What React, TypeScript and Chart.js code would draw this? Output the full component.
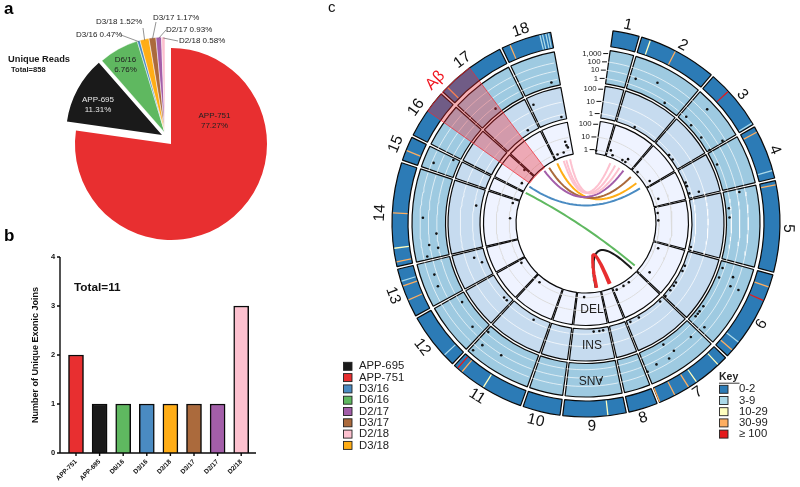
import React, { useEffect, useRef } from "react";
import { Chart, registerables } from "chart.js";

Chart.register(...registerables);
Chart.defaults.font.family = '"Liberation Sans", Arial, sans-serif';

const FONT = '"Liberation Sans", Arial, sans-serif';
const W = 800;
const H = 487;

// ---------- panel a / b ----------
const joinNames = ["APP-751", "APP-695", "D6/16", "D3/16", "D3/18", "D3/17", "D2/17", "D2/18"];
const joinColors = ["#e82f30", "#1a1a1a", "#5fb860", "#4a8bc2", "#ffad16", "#ab6a3c", "#a35ea9", "#fdc1cf"];
const readShares = [77.27, 11.31, 6.76, 0.47, 1.52, 1.17, 0.93, 0.58];
const uniqueJoins = [2, 1, 1, 1, 1, 1, 1, 3];

// ---------- panel c ----------
const exonLabels = ["1", "2", "3", "4", "5", "6", "7", "8", "9", "10", "11", "12", "13", "14", "15", "16", "17", "18"];
const exonSpans = [8.7, 24.3, 19.3, 17.1, 28.1, 28.5, 24.5, 9.5, 19.7, 12, 23.8, 17.9, 15.6, 31.9, 8.1, 15.5, 21.9, 15.1];
const keyLabels = ["0-2", "3-9", "10-29", "30-99", "≥ 100"];
const keyColors = ["#2c7bb6", "#abd9e9", "#ffffbf", "#fdae61", "#e41a1c"];
const legendNames = ["APP-695", "APP-751", "D3/16", "D6/16", "D2/17", "D3/17", "D2/18", "D3/18"];
const legendColors = ["#1a1a1a", "#e82f30", "#4a8bc2", "#5fb860", "#a35ea9", "#ab6a3c", "#fdc1cf", "#ffad16"];

// [angle in degrees clockwise from the top, colour class of the key]
const bandStripes: [number, number][] = [
  [19.4, 2], [27.5, 3], [47.2, 4], [59, 1], [62, 3], [74.3, 1], [78.6, 3], [109.3, 3], [113.6, 4],
  [128, 1], [131, 3], [137, 2], [145.2, 2], [148, 3], [152.7, 3], [157.6, 3], [173.5, 2], [212, 2],
  [219.8, 3], [221.5, 4], [227, 1], [246.6, 3], [251, 3], [252.5, 1], [258.4, 3], [262.5, 2], [273, 3],
  [292, 3], [314.4, 3], [336.9, 3], [346.2, 1], [347, 1], [348, 1], [348.8, 1],
];

// [angle, read count]
const snvDots: [number, number][] = [
  [19.5, 11], [27.4, 44], [33.6, 1], [43.6, 2], [47, 500], [47.3, 1], [53.6, 1], [59, 76], [59.5, 1], [66, 1],
  [78.5, 34], [84, 1], [87.7, 1], [108, 1], [110, 34], [112, 1], [113.4, 44], [113.5, 500], [125, 1], [127.5, 1],
  [128.7, 1], [130, 1], [131, 44], [137, 20], [145, 20], [147, 1], [148, 58], [153, 44], [157, 100], [174, 34],
  [212, 20], [219.7, 44], [221, 660], [221.2, 1], [227, 7], [237, 1], [246.6, 44], [251, 34], [258, 58], [260.4, 2],
  [262, 20], [266, 2], [272, 76], [292, 100], [296, 1], [322.5, 1], [347, 1],
];
const insDots: [number, number][] = [
  [27.5, 1], [51, 1], [54, 1], [68, 1], [70, 1], [74, 1], [74.5, 6], [102.6, 1], [113, 1], [116, 1], [123, 1], [125, 1],
  [128, 1], [132, 1], [136, 1], [150, 1], [155, 1], [170, 1], [172, 1], [175, 1], [207.5, 1], [225, 1], [227, 1],
  [249, 1], [252.5, 3], [279.4, 1], [329, 1], [337, 44], [348, 1],
];
const delDots: [number, number][] = [
  [9.3, 1], [22.5, 1], [20, 2], [31, 1], [33.7, 1], [34.2, 2], [46, 1], [57, 2], [71.6, 2], [82, 1], [87.7, 1],
  [108.7, 2], [127, 4], [143, 1], [148, 1], [154, 1], [180, 1], [237.6, 1], [217, 1], [274, 1], [286, 1], [303, 1],
  [312, 3], [347, 6], [347.3, 3], [348, 2], [339, 1], [344, 1],
];

// [name index in legendNames, from angle, to angle]; the first one is drawn on top
const chords: [number, number, number][] = [
  [1, 168.7, 158], [1, 169.6, 156.5], [0, 133.8, 170],
  [6, 342, 23.4], [6, 344.3, 28], [6, 347.7, 32.3], [4, 323, 36.5], [5, 328, 45], [7, 336, 52.3], [2, 304, 57.7], [3, 297.7, 130],
];
const snvTicks = [1, 10, 100, 1000];
const snvTickText = ["1", "10", "100", "1,000"];
const depthTicks = [1, 10, 100];
const depthTickText = ["1", "10", "100"];

// ---------- geometry of panel c ----------
const cx = 586;
const cy = 223;
const START = 8;
const GAP = 0.8;
const R_OUT = 194;
const R_IN = 70;
const CHORD_R = 66.7;
const snvR = (v: number) => 147 + 8.5 * Math.log10(v);
const insR = (v: number) => 110.5 + 12.5 * Math.log10(v);
const delR = (v: number) => 75 + 13 * Math.log10(v);
const snvAxis = (v: number) => snvR(v) + 1.8;
const insAxis = (v: number) => insR(v) + 2.2;
const delAxis = (v: number) => delR(v) + 0.7;

const polar = (deg: number, r: number) => {
  const a = (deg * Math.PI) / 180;
  return { x: r * Math.sin(a), y: r * Math.cos(a) };
};

const exonBounds: [number, number][] = [];
{
  let t = START;
  exonSpans.forEach((s) => {
    exonBounds.push([t, t + s]);
    t += s;
  });
}
const END = exonBounds[exonBounds.length - 1][1];

function arcLine(r: number) {
  const pts: { x: number; y: number }[] = [];
  exonBounds.forEach(([a, b], i) => {
    const last = i === exonBounds.length - 1;
    const e = last ? b : b - GAP;
    for (let t = a; t < e; t += 1.5) pts.push(polar(t, r));
    pts.push(polar(e, r));
    pts.push({ x: NaN, y: NaN });
  });
  return pts;
}

function chordLine(from: number, to: number) {
  const p0 = polar(from, CHORD_R);
  const p2 = polar(to, CHORD_R);
  const pts: { x: number; y: number }[] = [];
  for (let i = 0; i <= 30; i++) {
    const u = i / 30;
    const k = (1 - u) * (1 - u);
    const m = u * u;
    pts.push({ x: k * p0.x + m * p2.x, y: k * p0.y + m * p2.y });
  }
  return pts;
}

function ringDataset(weight: number, color: string) {
  const data: number[] = [START];
  const bg: string[] = ["transparent"];
  const bw: number[] = [0];
  exonSpans.forEach((s, i) => {
    const last = i === exonSpans.length - 1;
    data.push(last ? s : s - GAP);
    bg.push(color);
    bw.push(1.2);
    if (!last) {
      data.push(GAP);
      bg.push("transparent");
      bw.push(0);
    }
  });
  data.push(360 - END);
  bg.push("transparent");
  bw.push(0);
  return { data, backgroundColor: bg, borderWidth: bw, borderColor: "#0a0a0a", weight };
}
const spacer = (weight: number) => ({ data: [1], backgroundColor: ["transparent"], borderWidth: 0, weight });

function text(ctx: CanvasRenderingContext2D, s: string, x: number, y: number, font: string, color = "#1a1a1a", align: CanvasTextAlign = "left", rot = 0) {
  ctx.save();
  ctx.translate(x, y);
  ctx.rotate((rot * Math.PI) / 180);
  ctx.font = `${font} ${FONT}`;
  ctx.fillStyle = color;
  ctx.textAlign = align;
  ctx.textBaseline = "middle";
  ctx.fillText(s, 0, 0);
  ctx.restore();
}

const noPlugins = { legend: { display: false }, tooltip: { enabled: false } };
const PIE_R = 96;

// One pie layer: all slices keep their share, only the slices in `show` are painted,
// and the layer's centre is where those exploded slices sit.
function pieLayer(canvas: HTMLCanvasElement, show: number[], centre: [number, number], plugins: any[] = []) {
  return new Chart(canvas, {
    type: "pie",
    data: {
      labels: joinNames,
      datasets: [{
        data: readShares,
        backgroundColor: joinColors.map((c, i) => (show.includes(i) ? c : "transparent")),
        borderWidth: joinNames.map((_, i) => (show.includes(i) && show.length > 1 ? 0.5 : 0)),
        borderColor: "#fff",
      }],
    },
    options: {
      animation: false, responsive: false, radius: PIE_R,
      layout: { padding: { left: 0, top: 0, right: W - 2 * centre[0], bottom: H - 2 * centre[1] } },
      plugins: noPlugins,
    } as any,
    plugins,
  });
}

export default function App() {
  const barRef = useRef<HTMLCanvasElement>(null);
  const pieRef = useRef<HTMLCanvasElement>(null);
  const pieBlackRef = useRef<HTMLCanvasElement>(null);
  const pieRestRef = useRef<HTMLCanvasElement>(null);
  const ringRef = useRef<HTMLCanvasElement>(null);
  const stripeRef = useRef<HTMLCanvasElement>(null);
  const markRef = useRef<HTMLCanvasElement>(null);
  const hiRef = useRef<HTMLCanvasElement>(null);

  useEffect(() => {
    const charts: Chart[] = [];
    const doughnutPad = { left: 2 * cx - W, right: 0, top: 0, bottom: H - 2 * cy };

    // Panel a
    const pieLabels: Record<string, [number, number]> = {
      "D3/16": [76, 35], "D3/18": [96, 22], "D3/17": [153, 18], "D2/17": [166, 30], "D2/18": [179, 41],
    };
    const leaderEnds: Record<string, [number, number]> = {
      "D3/16": [121, 35], "D3/18": [143, 28], "D3/17": [156, 22], "D2/17": [166, 30], "D2/18": [178, 41],
    };
    charts.push(pieLayer(pieRef.current!, [0], [171, 144]));
    charts.push(pieLayer(pieBlackRef.current!, [1], [162, 135]));
    charts.push(
      pieLayer(pieRestRef.current!, [2, 3, 4, 5, 6, 7], [165, 133], [{
        id: "pieText",
        afterDraw(c: any) {
          const ctx = c.ctx as CanvasRenderingContext2D;
          const arcs = c.getDatasetMeta(0).data;
          joinNames.forEach((n, i) => {
            if (!pieLabels[n]) return;
            const a = arcs[i];
            const mid = (a.startAngle + a.endAngle) / 2;
            const r = PIE_R - 1;
            ctx.strokeStyle = "#666";
            ctx.lineWidth = 0.7;
            ctx.beginPath();
            ctx.moveTo(leaderEnds[n][0], leaderEnds[n][1]);
            ctx.lineTo(a.x + r * Math.cos(mid), a.y + r * Math.sin(mid));
            ctx.stroke();
            text(ctx, `${n} ${readShares[i].toFixed(2)}%`, pieLabels[n][0], pieLabels[n][1], "8px");
          });
          text(ctx, "APP-751", 214.5, 116, "8px", "#222", "center");
          text(ctx, `${readShares[0]}%`, 214.5, 126, "8px", "#222", "center");
          text(ctx, "APP-695", 98, 100, "8px", "#e8e8e8", "center");
          text(ctx, `${readShares[1]}%`, 98, 110, "8px", "#e8e8e8", "center");
          text(ctx, "D6/16", 125.5, 60, "8px", "#222", "center");
          text(ctx, `${readShares[2]}%`, 125.5, 70, "8px", "#222", "center");
          text(ctx, "Unique Reads", 8, 59.5, "bold 9.3px");
          text(ctx, "Total=858", 11, 70, "bold 7.6px");
          text(ctx, "a", 4, 9, "bold 17px", "#000");
        },
      }])
    );

    // Panel b
    charts.push(
      new Chart(barRef.current!, {
        type: "bar",
        data: {
          labels: joinNames,
          datasets: [{
            data: uniqueJoins,
            backgroundColor: joinColors,
            borderColor: "#0a0a0a",
            borderWidth: 1.5,
            barThickness: 15,
          }],
        },
        options: {
          animation: false, responsive: false,
          layout: { padding: { left: 0, top: 257, right: W - 253, bottom: 0 } },
          plugins: noPlugins,
          scales: {
            x: {
              grid: { display: false, drawTicks: false },
              border: { display: false },
              afterFit(s: any) { s.height = H - 453; },
              ticks: { color: "#111", font: { size: 6.5, weight: "bold" }, minRotation: 45, maxRotation: 45, padding: 5, autoSkip: false },
            },
            y: {
              min: 0, max: 4,
              grid: { display: false, drawTicks: false },
              border: { display: false },
              afterFit(s: any) { s.width = 64.2; },
              ticks: { stepSize: 1, color: "#111", font: { size: 7.5, weight: "bold" }, padding: 9 },
              title: { display: true, text: "Number of Unique Exonic Joins", color: "#111", font: { size: 9, weight: "bold" }, padding: { top: 30, bottom: 0 } },
            },
          },
        } as any,
        plugins: [{
          id: "spines",
          afterDraw(c: any) {
            const ctx = c.ctx as CanvasRenderingContext2D;
            const { x, y } = c.scales;
            const sx = 60;
            const y0 = y.getPixelForValue(0);
            ctx.strokeStyle = "#0a0a0a";
            ctx.lineWidth = 1.4;
            ctx.beginPath();
            ctx.moveTo(sx, y.getPixelForValue(4));
            ctx.lineTo(sx, y0);
            ctx.moveTo(sx - 3, y0);
            ctx.lineTo(256, y0);
            y.ticks.forEach((t: any) => {
              const p = y.getPixelForValue(t.value);
              ctx.moveTo(sx - 3, p);
              ctx.lineTo(sx, p);
            });
            joinNames.forEach((_, i) => {
              const p = x.getPixelForValue(i);
              ctx.moveTo(p, y0);
              ctx.lineTo(p, y0 + 3);
            });
            ctx.stroke();
            text(ctx, "Total=11", 74, 288, "bold 11.8px", "#111");
            text(ctx, "b", 4, 236, "bold 17px", "#000");
          },
        }],
      })
    );

    // Panel c: rings, outermost dataset first
    charts.push(
      new Chart(ringRef.current!, {
        type: "doughnut",
        data: {
          datasets: [
            ringDataset(16, keyColors[0]),
            spacer(4),
            ringDataset(33.5, "#9ecae1"),
            spacer(2.5),
            ringDataset(32, "#c6dbef"),
            spacer(3.5),
            ringDataset(32.5, "#eff3ff"),
          ],
        },
        options: {
          animation: false, responsive: false, radius: R_OUT, cutout: `${(R_IN / R_OUT) * 100}%`,
          layout: { padding: doughnutPad }, plugins: noPlugins,
        } as any,
      })
    );

    // Panel c: coloured stripes of the outer band
    const stripeW = 0.4;
    const stripeData: number[] = [];
    const stripeBg: string[] = [];
    let pos = 0;
    bandStripes.forEach(([t, k]) => {
      stripeData.push(t - stripeW / 2 - pos, stripeW);
      stripeBg.push("transparent", keyColors[k]);
      pos = t + stripeW / 2;
    });
    stripeData.push(360 - pos);
    stripeBg.push("transparent");
    charts.push(
      new Chart(stripeRef.current!, {
        type: "doughnut",
        data: { datasets: [{ data: stripeData, backgroundColor: stripeBg, borderWidth: 0 }] },
        options: {
          animation: false, responsive: false, radius: 193.3, cutout: `${(178.7 / 193.3) * 100}%`,
          layout: { padding: doughnutPad }, plugins: noPlugins,
        } as any,
      })
    );

    // Panel c: the first dataset is painted last, so marks come first and grid circles last
    const line = (data: any[], color: string, width: number) => ({
      type: "scatter", data, showLine: true, borderColor: color, borderWidth: width, pointRadius: 0, spanGaps: false, tension: 0,
    });
    const dots = (data: any[]) => ({ type: "scatter", data, showLine: false, pointRadius: 1.3, pointBackgroundColor: "#111", pointBorderWidth: 0 });
    const gridSets = [
      ...snvTicks.slice(0, 3).map((v) => line(arcLine(snvAxis(v)), "rgba(255,255,255,0.65)", 1)),
      ...depthTicks.slice(0, 2).map((v) => line(arcLine(insAxis(v)), "rgba(255,255,255,0.7)", 1)),
      line(arcLine(delAxis(1)), "#dcdcdc", 1),
      line(arcLine(delAxis(10)), "#dcdcdc", 1),
    ];
    const tickPts = (vals: number[], rf: (v: number) => number) =>
      vals.flatMap((v) => {
        const p = polar(START, rf(v));
        return [p, { x: p.x - 5, y: p.y }, { x: NaN, y: NaN }];
      });
    charts.push(
      new Chart(markRef.current!, {
        type: "scatter",
        data: {
          datasets: [
            ...chords.map(([k, a, b]) => line(chordLine(a, b), legendColors[k], k === 1 ? 2.4 : 2)),
            dots(snvDots.map(([t, v]) => polar(t, snvR(v)))),
            dots(insDots.map(([t, v]) => polar(t, insR(v)))),
            dots(delDots.map(([t, v]) => polar(t, delR(v)))),
            line(tickPts(snvTicks, snvAxis), "#111", 1),
            line(tickPts(depthTicks, insAxis), "#111", 1),
            line(tickPts(depthTicks, delAxis), "#111", 1),
            ...gridSets,
          ] as any,
        },
        options: {
          animation: false, responsive: false,
          layout: { padding: 0 },
          plugins: noPlugins,
          scales: {
            x: { type: "linear", min: -cx, max: W - cx, display: false },
            y: { type: "linear", min: -(H - cy), max: cy, display: false },
          },
        } as any,
        plugins: [{
          id: "circosText",
          afterDraw(c: any) {
            const ctx = c.ctx as CanvasRenderingContext2D;
            const { x, y } = c.scales;
            const px = (d: { x: number; y: number }) => [x.getPixelForValue(d.x), y.getPixelForValue(d.y)];
            const ax = (vals: number[], txt: string[], rf: (v: number) => number) =>
              vals.forEach((v, i) => {
                const [a, b] = px(polar(START, rf(v)));
                text(ctx, txt[i], a - 6.5, b, "7.8px", "#222", "right");
              });
            ax(snvTicks, snvTickText, snvAxis);
            ax(depthTicks, depthTickText, insAxis);
            ax(depthTicks, depthTickText, delAxis);
            exonLabels.forEach((l, i) => {
              const mid = (exonBounds[i][0] + exonBounds[i][1]) / 2;
              const [a, b] = px(polar(mid, 206.5));
              const rot = mid >= 100 && mid < 270 ? mid - 180 : mid;
              text(ctx, l, a, b, "15.5px", "#111", "center", rot);
            });
            {
              const [a, b] = px(polar(314, 209));
              text(ctx, "Aβ", a, b, "16px", "#f01520", "center", -46);
            }
            text(ctx, "DEL", cx + 6, 309.5, "12px", "#222", "center");
            text(ctx, "INS", cx + 6, 346, "12px", "#222", "center");
            text(ctx, "SNV", cx + 5, 382, "12px", "#222", "center");
            text(ctx, "c", 328, 8, "15px", "#111");
            legendNames.forEach((n, i) => {
              const ly = 366.3 + i * 11.3;
              ctx.fillStyle = legendColors[i];
              ctx.fillRect(343.5, ly - 4, 8.5, 8);
              ctx.strokeStyle = "#222";
              ctx.lineWidth = 0.9;
              ctx.strokeRect(343.5, ly - 4, 8.5, 8);
              text(ctx, n, 359, ly, "11.3px", "#222");
            });
            text(ctx, "Key", 719, 377, "bold 10.5px", "#222");
            ctx.strokeStyle = "#222";
            ctx.lineWidth = 0.9;
            ctx.beginPath();
            ctx.moveTo(719, 383.2);
            ctx.lineTo(739.5, 383.2);
            ctx.stroke();
            keyLabels.forEach((n, i) => {
              const ly = 389.3 + i * 11.2;
              ctx.fillStyle = keyColors[i];
              ctx.fillRect(719.5, ly - 4, 8.5, 8);
              ctx.strokeStyle = "#222";
              ctx.lineWidth = 0.9;
              ctx.strokeRect(719.5, ly - 4, 8.5, 8);
              text(ctx, n, 739, ly, "11.3px", "#222");
            });
          },
        }],
      })
    );

    // Panel c: the highlighted A-beta region
    charts.push(
      new Chart(hiRef.current!, {
        type: "doughnut",
        data: {
          datasets: [{
            data: [305.2, 17.8, 36.9],
            backgroundColor: ["transparent", "rgba(232,40,50,0.36)", "transparent"],
            borderColor: "rgba(240,40,50,0.8)",
            borderWidth: [0, 0.9, 0],
          }],
        },
        options: {
          animation: false, responsive: false, radius: R_OUT, cutout: `${(69 / R_OUT) * 100}%`,
          layout: { padding: doughnutPad }, plugins: noPlugins,
        } as any,
      })
    );

    return () => charts.forEach((c) => c.destroy());
  }, []);

  const layer: React.CSSProperties = { position: "absolute", left: 0, top: 0, pointerEvents: "none" };
  return (
    <div style={{ position: "absolute", left: 0, top: 0, width: W, height: H, background: "#fff", overflow: "hidden" }}>
      <canvas ref={barRef} width={W} height={H} style={layer} />
      <canvas ref={pieRef} width={W} height={H} style={layer} />
      <canvas ref={pieBlackRef} width={W} height={H} style={layer} />
      <canvas ref={pieRestRef} width={W} height={H} style={layer} />
      <canvas ref={ringRef} width={W} height={H} style={layer} />
      <canvas ref={stripeRef} width={W} height={H} style={layer} />
      <canvas ref={markRef} width={W} height={H} style={layer} />
      <canvas ref={hiRef} width={W} height={H} style={layer} />
    </div>
  );
}
